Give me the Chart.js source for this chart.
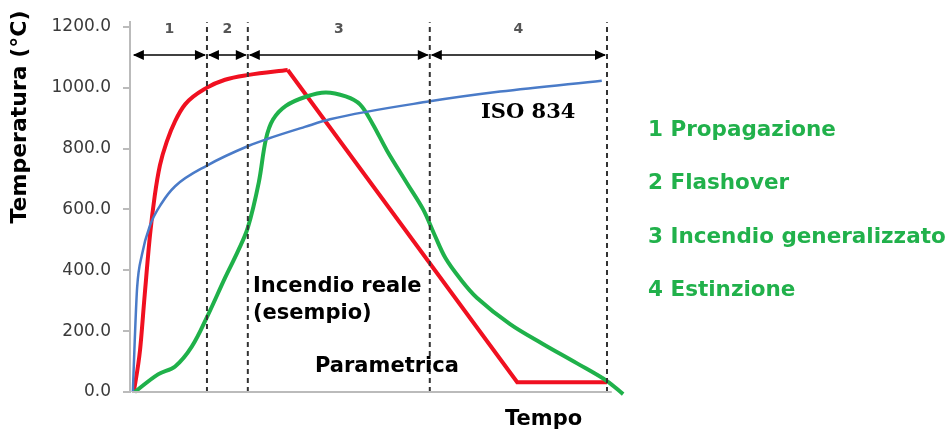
<!DOCTYPE html>
<html>
<head>
<meta charset="utf-8">
<script src="https://cdn.jsdelivr.net/npm/chart.js@4.4.1/dist/chart.umd.min.js"></script>
<style>
  body { margin: 0; background: #fff; }
  #wrap { width: 952px; height: 433px; position: relative; }
</style>
</head>
<body>
<div id="wrap"><canvas id="fireChart"></canvas></div>
<script>
// tempo in unita' arbitrarie (0 = innesco, 100 = fine estinzione)
const phaseBounds = [0, 15.8, 24.4, 62.7, 100];
const phaseLabels = ['1', '2', '3', '4'];
const yTicks = [0, 200, 400, 600, 800, 1000, 1200];

// curva ISO 834
const isoTime = [0.2, 0.6, 1.1, 2.1, 3.8, 6.3, 9.1, 15.8, 24.6, 28.6, 36.4, 41.7, 62.7, 77.5, 98.9];
const isoTemp = [0, 170, 343, 450, 547, 621, 676, 744, 809, 832, 871, 896, 955, 987, 1023];

// curva parametrica (fase di riscaldamento + raffreddamento lineare)
const paramRiseTime = [0.4, 1.7, 2.7, 3.8, 4.8, 5.9, 7.4, 9.1, 11.2, 15.8, 19.6, 24.6, 32.8];
const paramRiseTemp = [0, 136, 320, 514, 644, 745, 825, 890, 945, 1000, 1026, 1042, 1058];
const paramDecayTime = [32.8, 81.1, 100];
const paramDecayTemp = [1058, 32, 32];

// incendio reale (esempio)
const realTime = [0.6, 5.5, 9.1, 12.6, 15.8, 19.6, 22.3, 24.4, 26.7, 28.2, 29.7, 32.4, 36.6, 40.8, 45.0, 48.0, 50.7, 53.7, 57.9, 61.3, 63.6, 66.0, 69.1, 72.6, 79.6, 86.5, 93.7, 100, 103.4];
const realTemp = [0, 58, 84, 149, 246, 375, 462, 540, 688, 830, 895, 940, 970, 984, 971, 945, 880, 793, 686, 600, 520, 440, 372, 310, 223, 158, 94, 36, -7];

const legendItems = ['1 Propagazione', '2 Flashover', '3 Incendio generalizzato', '4 Estinzione'];

const ARROW_Y = 1107;
const LABEL_Y = 1190;
const Y_MAX = 1215;

function toPoints(xs, ys) {
  return xs.map((x, i) => ({ x: x, y: ys[i] }));
}

// linee tratteggiate di separazione delle fasi
const phaseLineSets = phaseBounds.slice(1).map(b => ({
  data: [{ x: b, y: 0 }, { x: b, y: Y_MAX }],
  borderColor: '#333',
  borderWidth: 2,
  borderDash: [5, 4],
  pointRadius: 0,
  tension: 0,
  clip: false,
}));

const decorPlugin = {
  id: 'decor',
  afterDatasetsDraw(chart) {
    const ctx = chart.ctx;
    const xs = chart.scales.x, ys = chart.scales.y;
    ctx.save();

    // asse x
    ctx.strokeStyle = '#bbb';
    ctx.lineWidth = 2;
    ctx.beginPath();
    ctx.moveTo(xs.getPixelForValue(0), ys.getPixelForValue(0));
    ctx.lineTo(xs.getPixelForValue(101), ys.getPixelForValue(0));
    ctx.stroke();

    // frecce delle fasi
    const ay = ys.getPixelForValue(ARROW_Y);
    ctx.strokeStyle = '#000';
    ctx.lineWidth = 1.5;
    for (let i = 0; i < phaseLabels.length; i++) {
      const x1 = xs.getPixelForValue(phaseBounds[i]);
      const x2 = xs.getPixelForValue(phaseBounds[i + 1]);
      ctx.fillStyle = '#000';
      ctx.beginPath();
      ctx.moveTo(x1 + 2, ay);
      ctx.lineTo(x2 - 2, ay);
      ctx.stroke();
      [[x1 + 1, 1], [x2 - 1, -1]].forEach(([tip, dir]) => {
        ctx.beginPath();
        ctx.moveTo(tip, ay);
        ctx.lineTo(tip + dir * 11, ay - 5);
        ctx.lineTo(tip + dir * 11, ay + 5);
        ctx.closePath();
        ctx.fill();
      });
      // numero della fase
      ctx.fillStyle = '#555';
      ctx.font = 'bold 14px "DejaVu Sans"';
      ctx.textAlign = 'center';
      ctx.textBaseline = 'middle';
      ctx.fillText(phaseLabels[i], (x1 + x2) / 2, ys.getPixelForValue(LABEL_Y));
    }

    // etichette delle curve
    ctx.fillStyle = '#000';
    ctx.textAlign = 'left';
    ctx.textBaseline = 'middle';
    ctx.font = 'bold 21px "DejaVu Serif"';
    ctx.fillText('ISO 834', 481, 113);
    ctx.font = 'bold 21px "DejaVu Sans"';
    ctx.fillText('Incendio reale', 253, 287);
    ctx.fillText('(esempio)', 253, 314);
    ctx.fillText('Parametrica', 315, 367);
    ctx.fillText('Tempo', 505, 420);

    // legenda delle fasi
    ctx.fillStyle = '#21b14b';
    ctx.font = 'bold 21.5px "DejaVu Sans"';
    legendItems.forEach((t, i) => ctx.fillText(t, 648, 130 + i * 53.5));

    // titolo asse y
    ctx.fillStyle = '#000';
    ctx.font = 'bold 22px "DejaVu Sans"';
    ctx.translate(20, 117);
    ctx.rotate(-Math.PI / 2);
    ctx.textAlign = 'center';
    ctx.fillText('Temperatura (°C)', 0, 0);
    ctx.restore();
  }
};

new Chart(document.getElementById('fireChart'), {
  type: 'line',
  data: {
    datasets: [
      ...phaseLineSets,
      {
        label: 'ISO 834',
        data: toPoints(isoTime, isoTemp),
        borderColor: '#4a7bc8',
        borderWidth: 2.5,
        pointRadius: 0,
        cubicInterpolationMode: 'monotone',
      },
      {
        label: 'Incendio reale',
        data: toPoints(realTime, realTemp),
        borderColor: '#1fb14a',
        borderWidth: 4,
        pointRadius: 0,
        tension: 0.35,
        clip: false,
      },
      {
        label: 'Parametrica',
        data: toPoints(paramRiseTime, paramRiseTemp),
        borderColor: '#f01020',
        borderWidth: 4,
        pointRadius: 0,
        cubicInterpolationMode: 'monotone',
      },
      {
        label: 'Parametrica (raffreddamento)',
        data: toPoints(paramDecayTime, paramDecayTemp),
        borderColor: '#f01020',
        borderWidth: 4,
        pointRadius: 0,
        tension: 0,
      },
    ],
  },
  options: {
    responsive: true,
    maintainAspectRatio: false,
    animation: false,
    layout: { padding: { left: 0, right: 326, top: 16, bottom: 41 } },
    scales: {
      x: {
        type: 'linear',
        min: -0.4,
        max: 104,
        display: false,
      },
      y: {
        min: 0,
        max: Y_MAX,
        afterBuildTicks: (scale) => { scale.ticks = yTicks.map(v => ({ value: v })); },
        afterFit: (scale) => { scale.width = 130; },
        border: { color: '#bbb', width: 2 },
        grid: { drawOnChartArea: false, tickLength: 7, color: '#bbb', lineWidth: 2 },
        ticks: {
          padding: 12,
          color: '#3a3a3a',
          font: { family: 'DejaVu Sans', size: 17 },
          callback: (v) => Number(v).toFixed(1),
        },
      },
    },
    plugins: {
      legend: { display: false },
      tooltip: { enabled: false },
    },
  },
  plugins: [decorPlugin],
});
</script>
</body>
</html>
